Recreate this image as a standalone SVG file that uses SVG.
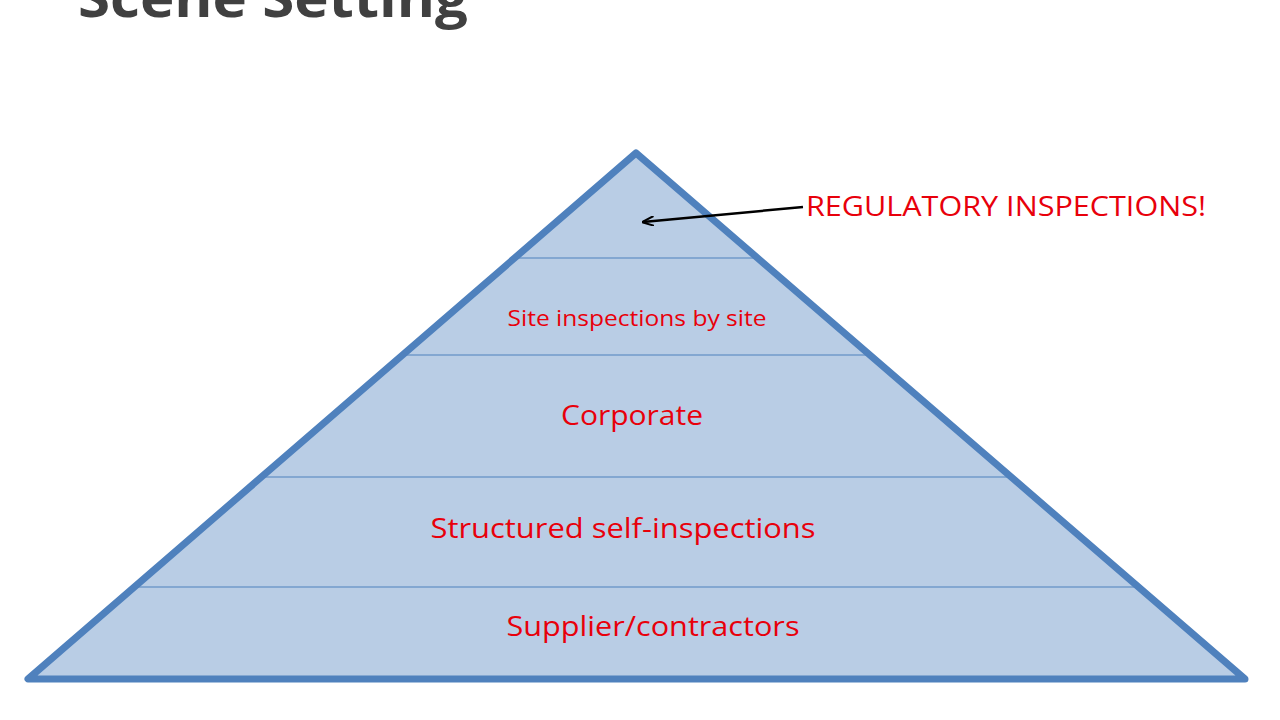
<svg xmlns="http://www.w3.org/2000/svg" width="1280" height="720" viewBox="0 0 1280 720">
<style>
.lbl{font-family:"Open Sans","Liberation Sans",sans-serif;fill:#e8000b;text-anchor:middle}
.div{stroke:#4f81bd;stroke-width:1.2}
</style>
<defs>
<marker id="ah" markerWidth="12" markerHeight="10" refX="11" refY="5" orient="auto" markerUnits="userSpaceOnUse">
<path d="M0,0 L12,5 L0,10" fill="none" stroke="#000" stroke-width="2"/>
</marker>
<clipPath id="tri"><polygon points="636,153 28,679 1245,679"/></clipPath>
</defs>
<rect width="1280" height="720" fill="#fff"/>
<text x="78" y="17" font-family="Open Sans,Liberation Sans,sans-serif" font-weight="bold" font-size="54" fill="#404040" textLength="390" lengthAdjust="spacingAndGlyphs">Scene Setting</text>
<g id="pyramid">
<polygon points="636,153 28,679 1245,679" fill="#b9cde5"/>
<g clip-path="url(#tri)">
<line class="div" x1="0" y1="258" x2="1280" y2="258"/>
<line class="div" x1="0" y1="355" x2="1280" y2="355"/>
<line class="div" x1="0" y1="477" x2="1280" y2="477"/>
<line class="div" x1="0" y1="587" x2="1280" y2="587"/>
</g>
<polygon points="636,153 28,679 1245,679" fill="none" stroke="#4f81bd" stroke-width="7" stroke-linejoin="round"/>
</g>
<g id="labels">
<text class="lbl" x="637" y="326" font-size="22" textLength="259" lengthAdjust="spacingAndGlyphs">Site inspections by site</text>
<text class="lbl" x="632" y="425" font-size="28" textLength="142" lengthAdjust="spacingAndGlyphs">Corporate</text>
<text class="lbl" x="623" y="538" font-size="28" textLength="385" lengthAdjust="spacingAndGlyphs">Structured self-inspections</text>
<text class="lbl" x="653" y="636" font-size="28" textLength="293" lengthAdjust="spacingAndGlyphs">Supplier/contractors</text>
</g>
<g id="callout">
<text x="806" y="216" font-family="Open Sans,Liberation Sans,sans-serif" font-size="27" fill="#e8000b" textLength="400" lengthAdjust="spacingAndGlyphs">REGULATORY INSPECTIONS!</text>
</g>
<g id="connectors">
<line x1="803" y1="207" x2="643" y2="222" stroke="#000" stroke-width="2.5" marker-end="url(#ah)"/>
</g>
</svg>
